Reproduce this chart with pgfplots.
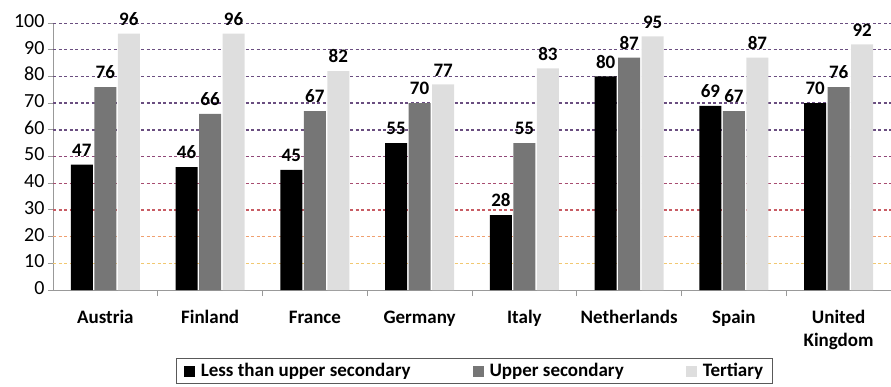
\documentclass[border=0pt]{standalone}
\usepackage{pgfplots}
\pgfplotsset{compat=1.18}
\usepackage{fontspec}
\setmainfont{Carlito}
\definecolor{gPurp}{HTML}{6A4E80}
\definecolor{gMar}{HTML}{904878}
\definecolor{gMar2}{HTML}{A84C70}
\definecolor{gRed}{HTML}{C85C64}
\definecolor{gOr}{HTML}{F0A070}
\definecolor{gYel}{HTML}{F2C870}
\definecolor{barmid}{HTML}{767676}
\definecolor{barlight}{HTML}{DEDEDE}
\tikzset{gl/.style={dash pattern=on 3pt off 2.5pt, line width=1.4pt}}
\begin{document}
\begin{tikzpicture}
\begin{axis}[name=ax, scale only axis, width=838pt, height=267pt,
  ybar=1.5pt, bar width=22pt,
  xmin=-0.5, xmax=7.5, ymin=0, ymax=100,
  axis lines=left, axis line style={-, draw=gray!80, line width=1pt},
  xtick={0,...,7},
  xticklabels={Austria,Finland,France,Germany,Italy,Netherlands,Spain,{United\\Kingdom}},
  typeset ticklabels with strut,
  xticklabel style={font=\fontsize{19}{23}\selectfont\bfseries, align=center, yshift=-9pt},
  minor x tick num=1,
  major x tick style={opacity=0},
  minor x tick style={draw=gray!80, line width=1pt},
  minor tick length=6pt,
  major tick length=5pt,
  tick align=outside,
  ytick={0,10,...,100},
  y tick style={draw=gray!80, line width=1pt},
  yticklabel style={font=\fontsize{20}{22}\selectfont},
  /pgf/number format/assume math mode=true,
  nodes near coords,
  every node near coord/.append style={font=\fontsize{19}{22}\selectfont\bfseries, inner sep=1pt, yshift=7pt, text=black},
  every axis plot post/.append style={legend image code/.code={\fill[##1] (0pt,-5.5pt) rectangle (11pt,5.5pt);}},
  legend columns=3,
  legend style={at={(0.503,-0.255)}, anchor=north, draw=gray!70!black, line width=1pt,
    font=\fontsize{19}{22}\selectfont\bfseries, inner xsep=7pt, inner ysep=3pt,
    /tikz/every odd column/.append style={column sep=4pt},
    /tikz/every even column/.append style={column sep=60pt}},
]
\draw[gYel, gl] (axis cs:-0.5,10) -- (axis cs:7.5,10);
\draw[gOr, gl] (axis cs:-0.5,20) -- (axis cs:7.5,20);
\draw[gRed, gl] (axis cs:-0.5,30) -- (axis cs:7.5,30);
\draw[gMar2, gl] (axis cs:-0.5,40) -- (axis cs:7.5,40);
\draw[gMar, gl] (axis cs:-0.5,50) -- (axis cs:7.5,50);
\draw[gPurp, gl] (axis cs:-0.5,60) -- (axis cs:7.5,60);
\draw[gPurp, gl] (axis cs:-0.5,70) -- (axis cs:7.5,70);
\draw[gPurp, gl] (axis cs:-0.5,80) -- (axis cs:7.5,80);
\draw[gPurp, gl] (axis cs:-0.5,90) -- (axis cs:7.5,90);
\draw[gPurp, gl] (axis cs:-0.5,100) -- (axis cs:7.5,100);
\addplot[fill=black, draw=none] coordinates {(0,47)(1,46)(2,45)(3,55)(4,28)(5,80)(6,69)(7,70)};
\addplot[fill=barmid, draw=none] coordinates {(0,76)(1,66)(2,67)(3,70)(4,55)(5,87)(6,67)(7,76)};
\addplot[fill=barlight, draw=none] coordinates {(0,96)(1,96)(2,82)(3,77)(4,83)(5,95)(6,87)(7,92)};
\legend{Less than upper secondary, Upper secondary, Tertiary}
\end{axis}
\pgfresetboundingbox
\path[use as bounding box] ([xshift=-53pt,yshift=-96pt]ax.south west) rectangle ([yshift=23pt]ax.north east);
\end{tikzpicture}
\end{document}
